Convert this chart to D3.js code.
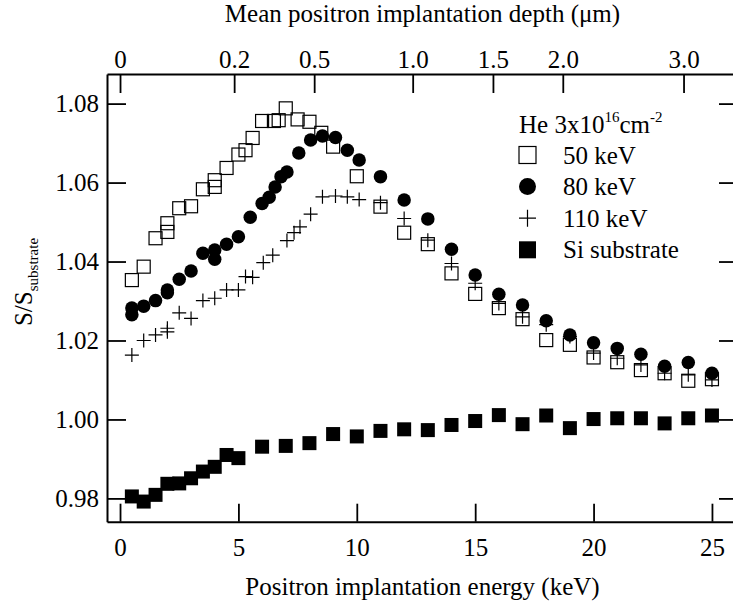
<!DOCTYPE html>
<html>
  <head>
    <meta charset="UTF-8">
    <title>S/S substrate</title>
    <script src="https://cdn.jsdelivr.net/npm/d3@7"></script>
    <style>
      body { margin: 0; background: #fff; }
    </style>
  </head>
  <body>
    <svg width="733" height="606"></svg>
    <script>
    // data
    var e50  = [0.5,1,1.5,2,2,2.5,3,3.5,4,4,4.5,5,5.3,5.6,6,6.5,6.7,7,7.5,8,8.5,9,10,11,12,13,14,15,16,17,18,19,20,21,22,23,24,25];
    var s50  = [1.0353,1.0387,1.0459,1.0497,1.0475,1.0535,1.0540,1.0583,1.0606,1.0589,1.0637,1.0671,1.0682,1.0713,1.0756,1.0756,1.0758,1.0788,1.0760,1.0754,1.0726,1.0691,1.0616,1.0539,1.0473,1.0444,1.0370,1.0318,1.0282,1.0254,1.0201,1.0189,1.0157,1.0145,1.0125,1.0117,1.0098,1.0102];

    var e80  = [0.5,0.5,1,1.5,2,2,2.5,3,3.5,4,4,4.5,5,5.5,6,6.3,6.55,6.8,7.05,7.55,8.05,8.55,9.1,9.6,10.1,11,12,13,14,15,16,17,18,19,20,21,22,23,24,25];
    var s80  = [1.0282,1.0265,1.0287,1.0301,1.0328,1.0321,1.0355,1.0376,1.0421,1.0429,1.0406,1.0444,1.0463,1.0512,1.0547,1.0563,1.0589,1.0615,1.0627,1.0675,1.0708,1.0718,1.0714,1.0682,1.0657,1.0615,1.0556,1.0508,1.0431,1.0366,1.0317,1.0290,1.0250,1.0214,1.0194,1.0180,1.0165,1.0135,1.0144,1.0117];

    var e110 = [0.5,1,1.5,2,2,2.5,3,3.5,4,4.5,5,5.3,5.6,6.05,6.45,7.05,7.35,7.6,8.05,8.55,9.1,9.6,10.1,11,12,13,14,15,16,17,18,19,20,21,22,23,24,25];
    var s110 = [1.0163,1.0200,1.0214,1.0222,1.0231,1.0270,1.0256,1.0301,1.0307,1.0328,1.0328,1.0362,1.0360,1.0397,1.0416,1.0453,1.0473,1.0488,1.0520,1.0564,1.0566,1.0564,1.0557,1.0549,1.0509,1.0454,1.0395,1.0345,1.0294,1.0260,1.0240,1.0210,1.0168,1.0155,1.0138,1.0117,1.0113,1.0100];

    var eSi  = [0.5,1,1.5,2,2.5,3,3.5,4,4.5,5,6,7,8,9,10,11,12,13,14,15,16,17,18,19,20,21,22,23,24,25];
    var sSi  = [0.9805,0.9792,0.9809,0.9837,0.9838,0.9851,0.9868,0.9880,0.9910,0.9902,0.9931,0.9933,0.9940,0.9963,0.9957,0.9971,0.9975,0.9973,0.9986,0.9996,1.0011,0.9988,1.0010,0.9978,1.0001,1.0003,1.0003,0.9990,1.0003,1.0010];

    var energyTicks = [0,5,10,15,20,25];
    var sTicks = [0.98,1.00,1.02,1.04,1.06,1.08];
    // depth axis: labels and the energies they sit at
    var depthLabels = ["0","0.2","0.5","1.0","1.5","2.0","3.0"];
    var depthAtEnergy = [0,4.82,8.2,12.36,15.75,18.7,23.8];

    var legendLabels = ["50 keV","80 keV","110 keV","Si substrate"];

    var FONT = "'Liberation Serif', 'Times New Roman', Times, 'DejaVu Serif', serif";

    var svg = d3.select("svg");
    var marge = {top:74, bottom:521.7, left:107, right:738};

    var x = d3.scaleLinear().domain([-0.55,26.1]).range([marge.left,marge.right]);
    var y = d3.scaleLinear().domain([0.9741,1.0875]).range([marge.bottom,marge.top]);

    // axes
    var gx = svg.append("g")
      .attr("transform","translate(0,"+marge.bottom+")")
      .call(d3.axisBottom(x).tickValues(energyTicks).tickSize(-18).tickSizeOuter(0).tickPadding(16.5));
    var gy = svg.append("g")
      .attr("transform","translate("+marge.left+",0)")
      .call(d3.axisLeft(y).tickValues(sTicks).tickFormat(d3.format(".2f")).tickSize(-19).tickSizeOuter(0).tickPadding(8));
    var gt = svg.append("g")
      .attr("transform","translate(0,"+marge.top+")")
      .call(d3.axisTop(x).tickValues(depthAtEnergy)
        .tickFormat(function(d,i){ return depthLabels[i]; })
        .tickSize(-19).tickSizeOuter(0).tickPadding(6));
    var gr = svg.append("g")
      .attr("transform","translate("+marge.right+",0)")
      .call(d3.axisRight(y).tickValues(sTicks).tickFormat("").tickSize(-19).tickSizeOuter(0));

    svg.selectAll(".domain").attr("stroke","#000").attr("stroke-width",2);
    svg.selectAll(".tick line").attr("stroke","#000").attr("stroke-width",1.8);
    svg.selectAll("g").attr("font-family",FONT);
    svg.selectAll(".tick text").attr("font-size",25).attr("fill","#000");
    gt.selectAll(".tick text").attr("dy","0em");

    // titles
    svg.append("text")
      .attr("x",(marge.left+marge.right)/2).attr("y",22)
      .attr("text-anchor","middle").attr("font-size",25).attr("font-family",FONT)
      .text("Mean positron implantation depth (\u03bcm)");
    svg.append("text")
      .attr("x",(marge.left+marge.right)/2).attr("y",595)
      .attr("text-anchor","middle").attr("font-size",25).attr("font-family",FONT)
      .text("Positron implantation energy (keV)");
    var yt = svg.append("text")
      .attr("transform","translate(32,282) rotate(-90)")
      .attr("text-anchor","middle").attr("font-size",25).attr("font-family",FONT);
    yt.append("tspan").text("S/S");
    yt.append("tspan").attr("font-size",15).attr("dy",6).text("substrate");

    var g = svg.append("g");

    // markers
    function openSquare(sel, s){
      sel.append("rect").attr("x",-s/2).attr("y",-s/2).attr("width",s).attr("height",s)
        .attr("fill","none").attr("stroke","#000").attr("stroke-width",1.2);
    }
    function dot(sel, s){
      sel.append("circle").attr("r",s/2).attr("fill","#000");
    }
    function plus(sel, s){
      sel.append("path").attr("d","M"+(-s/2)+",0H"+(s/2)+"M0,"+(-s/2)+"V"+(s/2))
        .attr("stroke","#000").attr("stroke-width",1.2).attr("fill","none");
    }
    function fillSquare(sel, s){
      sel.append("rect").attr("x",-s/2).attr("y",-s/2).attr("width",s).attr("height",s).attr("fill","#000");
    }

    function drawSeries(es, ss, mark, size){
      var pts = es.map(function(e,i){ return {e:e, s:ss[i]}; });
      g.append("g").selectAll("g")
        .data(pts).enter().append("g")
        .attr("transform",function(d){ return "translate("+x(d.e)+","+y(d.s)+")"; })
        .call(mark, size);
    }
    drawSeries(eSi, sSi, fillSquare, 14);
    drawSeries(e50, s50, openSquare, 13);
    drawSeries(e110, s110, plus, 14);
    drawSeries(e80, s80, dot, 13.5);

    // legend
    var lg = svg.append("g").attr("transform","translate(519,0)").attr("font-family",FONT);
    var head = lg.append("text").attr("x",0).attr("y",133).attr("font-size",25);
    head.append("tspan").text("He 3x10");
    head.append("tspan").attr("font-size",15).attr("dy",-11).text("16");
    head.append("tspan").attr("dy",11).text("cm");
    head.append("tspan").attr("font-size",15).attr("dy",-11).text("-2");

    var marks = [openSquare, dot, plus, fillSquare];
    var rows = lg.selectAll("g.row").data(legendLabels).enter().append("g")
      .attr("class","row")
      .attr("transform",function(d,i){ return "translate(0,"+(155+i*31.6)+")"; });
    rows.each(function(d,i){
      var r = d3.select(this);
      r.append("g").attr("transform","translate(8.5,0)").call(marks[i], 17);
      r.append("text").attr("x",44).attr("y",8.5).attr("font-size",25).text(d);
    });
    </script>
  </body>
</html>
